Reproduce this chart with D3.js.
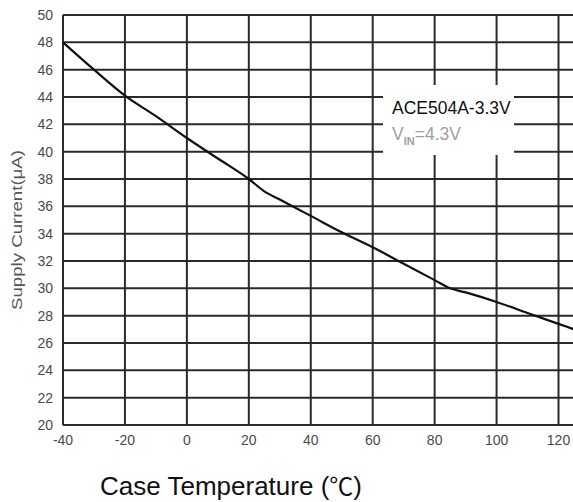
<!DOCTYPE html>
<html>
<head>
<meta charset="utf-8">
<script src="https://cdn.jsdelivr.net/npm/d3@7"></script>
<style>
  html, body { margin: 0; padding: 0; background: #fff; }
  svg { display: block; }
</style>
</head>
<body>
<svg id="chart" width="573" height="502"></svg>
<script>
const temps   = [-40, -30, -20, -10, 0, 10, 20, 25, 30, 40, 50, 60, 70, 80, 85, 90, 100, 110, 120, 125];
const current = [48, 46, 44.1, 42.6, 41, 39.5, 38, 37.1, 36.5, 35.3, 34.1, 33, 31.8, 30.6, 30.0, 29.7, 29.0, 28.2, 27.4, 27.0];
const xTicks  = [-40, -20, 0, 20, 40, 60, 80, 100, 120];
const yTicks  = [20, 22, 24, 26, 28, 30, 32, 34, 36, 38, 40, 42, 44, 46, 48, 50];
const legendLines = ["ACE504A-3.3V", "=4.3V"];

const svg = d3.select("#chart");
const x = d3.scaleLinear().domain([-40, 125]).range([63, 574]);
const y = d3.scaleLinear().domain([20, 50]).range([425, 15]);

const gridColor = "#2a2a2a";
const font = "'Liberation Sans', Arial, sans-serif";

// Horizontal grid
svg.append("g").selectAll("line").data(yTicks).join("line")
  .attr("x1", x(-40)).attr("x2", 573)
  .attr("y1", d => y(d)).attr("y2", d => y(d))
  .attr("stroke", gridColor).attr("stroke-width", 2);

// Vertical grid
svg.append("g").selectAll("line").data(xTicks).join("line")
  .attr("x1", d => x(d)).attr("x2", d => x(d))
  .attr("y1", y(50)).attr("y2", y(20))
  .attr("stroke", gridColor).attr("stroke-width", 2);

// Legend white box
svg.append("rect")
  .attr("x", 383).attr("y", 85).attr("width", 131).attr("height", 70)
  .attr("fill", "#fff");

// Curve
const line = d3.line().x((d, i) => x(temps[i])).y(d => y(d)).curve(d3.curveMonotoneX);
svg.append("path").datum(current)
  .attr("d", line).attr("fill", "none")
  .attr("stroke", "#111").attr("stroke-width", 2.2);

// Y tick labels
svg.append("g").selectAll("text").data(yTicks).join("text")
  .attr("x", 53).attr("y", d => y(d)).attr("dy", "0.36em")
  .attr("text-anchor", "end")
  .attr("font-family", font).attr("font-size", 14)
  .attr("fill", "#4a4a4a")
  .text(d => d);

// X tick labels
svg.append("g").selectAll("text").data(xTicks).join("text")
  .attr("x", d => x(d)).attr("y", 440).attr("dy", "0.36em")
  .attr("text-anchor", "middle")
  .attr("font-family", font).attr("font-size", 14)
  .attr("fill", "#4a4a4a")
  .text(d => d);

// Y axis title
svg.append("text")
  .attr("transform", "translate(22,230) rotate(-90)")
  .attr("text-anchor", "middle")
  .attr("font-family", font).attr("font-size", 15)
  .attr("fill", "#555")
  .attr("textLength", 160).attr("lengthAdjust", "spacingAndGlyphs")
  .text("Supply Current(μA)");

// X axis title
const xt = svg.append("text")
  .attr("x", 100).attr("y", 495)
  .attr("font-family", font).attr("font-size", 26)
  .attr("fill", "#111");
xt.append("tspan").text("Case Temperature (");
xt.append("tspan").attr("font-family", "'Noto Sans CJK SC', sans-serif").attr("font-size", 24).text("℃");
xt.append("tspan").text(")");

// Legend text
svg.append("text")
  .attr("x", 392).attr("y", 114)
  .attr("font-family", font).attr("font-size", 17.5)
  .attr("fill", "#111")
  .text(legendLines[0]);

const vin = svg.append("text")
  .attr("x", 392).attr("y", 140)
  .attr("font-family", font).attr("font-size", 17.5)
  .attr("fill", "#a0a0a0");
vin.append("tspan").text("V");
vin.append("tspan").attr("font-size", 11).attr("dy", 5).attr("font-weight", "bold").text("IN");
vin.append("tspan").attr("dy", -5).text(legendLines[1]);
</script>
</body>
</html>
